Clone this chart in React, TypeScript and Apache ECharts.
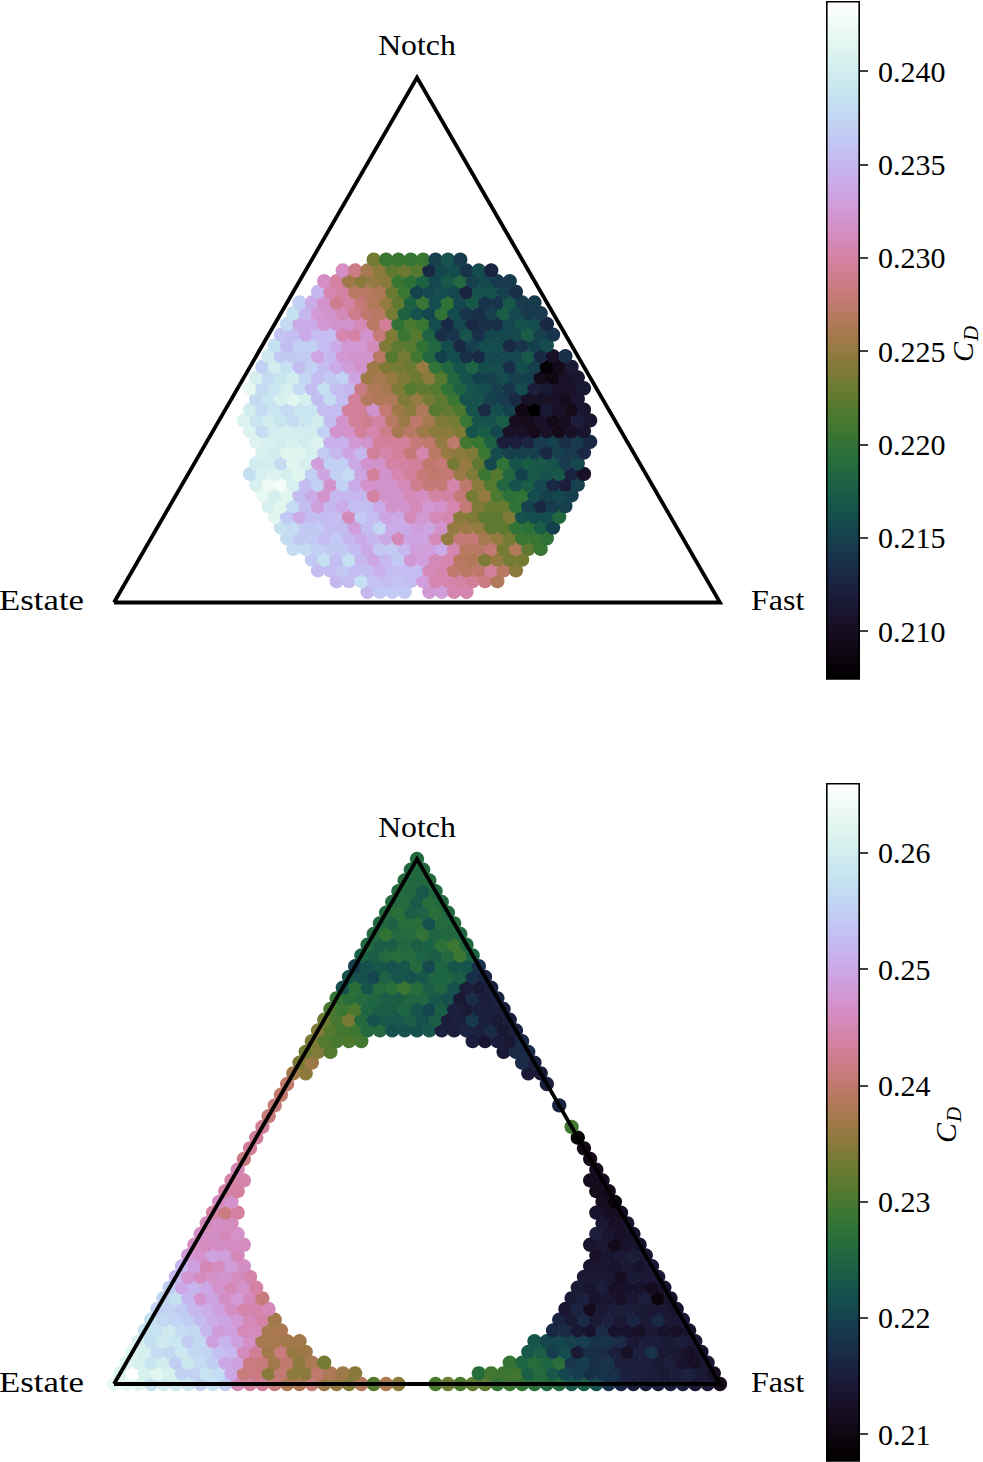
import { useEffect, useRef } from "react"
import * as echarts from "echarts"

const vertexLabels = ["Notch", "Estate", "Fast"]
const divisions = 49

const topRange = [0.20743, 0.24375]
const bottomRange = [0.20768, 0.26602]
const topTicks = [0.21, 0.215, 0.22, 0.225, 0.23, 0.235, 0.24]
const bottomTicks = [0.21, 0.22, 0.23, 0.24, 0.25, 0.26]

// [row from the base, first column, C_D in thousandths]
const topCells: [number, number, number[]][] = [
  [1, 20, [235, 236.5, 236.5, 236.5]],
  [1, 25, [232.5, 233, 230.5, 230.5]],
  [2, 17, [235, 235.5, 238.5, 236, 235.5, 236, 235.5, 233, 230.5, 230.5, 230, 229.5, 228.5, 226.5]],
  [3, 15, [235.5, 235.5, 236.5, 235.5, 235.5, 234.5, 235.5, 235.5, 235.5, 231, 230.5, 227.5, 227, 227.5, 229.5, 227, 224.5]],
  [4, 14, [236.5, 238.5, 235.5, 238.5, 235, 233.5, 235, 236.5, 232.5, 233, 231, 230.5, 227, 226.5, 224, 225, 223.5, 223.5]],
  [5, 12, [238, 238, 237, 236.5, 236.5, 235.5, 234, 236.5, 236.5, 235, 233, 233, 234, 230.5, 227, 227, 228, 223.5, 226.5, 222.5, 220.5]],
  [6, 11, [238, 236.5, 236.5, 235.5, 236.5, 235, 234, 235, 234, 231, 233.5, 233.5, 231, 225, 228, 228, 226, 225, 223.5, 220.5, 220.5, 220]],
  [7, 10, [238.5, 238, 236.5, 236.5, 235.5, 235.5, 233, 235.5, 237.5, 234, 234, 233, 233.5, 232, 225, 225.5, 225, 222.5, 222.5, 220, 219.5, 217.5, 215]],
  [8, 9, [241.5, 236.5, 234, 235.5, 235.5, 235.5, 231, 236.5, 235.5, 233.5, 234, 231, 232.5, 231, 230.5, 224.5, 224, 222.5, 222.5, 224, 216.5, 216, 216, 218.5]],
  [9, 8, [240.5, 241.5, 238, 235.5, 233, 235, 234, 235.5, 235.5, 234, 232, 232, 231, 232.5, 232, 230.5, 228, 224, 223, 223, 220, 215, 213, 214.5, 215]],
  [10, 7, [242, 240.5, 241.5, 235.5, 234, 232, 235, 235, 235, 230, 232, 232, 231, 231.5, 230, 230, 228, 223.5, 225, 221.5, 219.5, 220, 216, 215, 215.5, 215]],
  [11, 6, [240.5, 242.5, 243, 240.5, 235.5, 237, 232, 237, 234, 232, 232, 232, 231, 229, 228, 228, 230.5, 227.5, 224.5, 222, 218.5, 216.5, 217.5, 215.5, 213, 212, 215]],
  [12, 5, [238.5, 240.5, 241, 240.5, 241.5, 237, 233.5, 237, 238, 233.5, 229.5, 232, 230.5, 229.5, 228, 227.5, 228, 225.5, 224, 220.5, 222, 218.5, 215, 217, 216.5, 217, 212.5, 210.5]],
  [13, 5, [240, 240, 238, 241.5, 240.5, 233, 237, 237, 234, 232, 232, 230, 230, 229.5, 227.5, 228, 223.5, 225, 222.5, 215.5, 220, 216.5, 217.5, 217, 216.5, 214.5, 215.5]],
  [14, 5, [240.5, 240, 241.5, 241.5, 240.5, 236.5, 235, 233.5, 235, 229.5, 230.5, 229.5, 228, 230.5, 227, 225, 224.5, 224, 220.5, 216, 215, 215, 215, 213, 215, 214.5, 213]],
  [15, 4, [241, 240.5, 240, 240.5, 240, 241, 234.5, 234.5, 232.5, 232, 229.5, 229.5, 229.5, 228, 227.5, 225, 227.5, 221, 220.5, 218, 212, 212, 212.5, 214.5, 215, 213.5, 214.5, 213]],
  [16, 3, [241, 238, 240, 240.5, 240, 240, 237, 232, 232, 229.5, 230.5, 229, 226, 227, 225.5, 224.5, 224.5, 224, 216.5, 217.5, 215.5, 210.5, 210.5, 209.5, 210.5, 209.5, 210.5, 211]],
  [17, 2, [241, 239, 240, 239, 238, 239, 240, 235.5, 232, 229.5, 229, 230, 227, 225.5, 227.5, 226, 224, 223.5, 220.5, 216.5, 216.5, 217.5, 209.8, 209.5, 210.5, 209.5, 210, 212, 211]],
  [18, 2, [240, 238, 239, 238, 239, 239, 235.5, 235.5, 229.5, 229.5, 232, 228, 225.5, 224.5, 226.5, 222, 222.5, 221.5, 216.5, 213, 216, 215, 209, 207.5, 211.5, 210.5, 209.5, 211]],
  [19, 2, [238, 239, 240.5, 241.5, 240.5, 235.5, 238, 235.5, 229.5, 227, 226.5, 226.5, 224, 225, 223.5, 222.5, 220.5, 216.5, 216.5, 215, 214.5, 213, 210.5, 210.5, 210.5, 209.8, 211]],
  [20, 1, [242, 238, 239, 240.5, 238, 235.5, 238.5, 235.5, 235, 228.5, 226.5, 226, 224, 222, 222.5, 222, 220, 218, 216.5, 216, 215, 214, 216, 212, 211.5, 210.5, 210.5, 211.5]],
  [21, 1, [240.5, 238, 239, 240, 237.5, 235.5, 236.5, 237, 233.5, 225.5, 226, 225, 224, 223, 224.5, 222, 218.5, 216.5, 215, 215, 216, 215, 215, 209.5, 209, 210.5, 211]],
  [22, 1, [237, 240, 238.5, 235.5, 237, 235.5, 234, 233, 232, 225.5, 224, 223.5, 223, 225, 220, 218.5, 216.5, 218, 216, 216, 213.5, 216, 215, 207.8, 209.5, 211.5]],
  [23, 1, [239.5, 236.5, 236.5, 236.5, 233.5, 235, 232.5, 232, 232, 227, 222, 223.5, 221, 218.5, 215, 216, 213.5, 213, 215.5, 215.5, 215.5, 217, 213, 210.5, 213.5]],
  [24, 1, [238.5, 235.5, 237, 237, 235.5, 234, 232.5, 232.5, 231, 224, 222.5, 222, 220, 218.5, 216, 213, 215, 216, 216, 213, 214, 215, 216]],
  [25, 1, [236, 235.5, 234, 235.5, 235.5, 230.5, 230, 232, 228, 224, 220.5, 222, 218, 213.5, 214, 216.5, 213.5, 215.5, 215.5, 215.5, 217.5, 215, 214]],
  [26, 1, [238, 234, 234, 232.5, 232, 232, 231, 227, 229.5, 220, 221.5, 220.5, 216, 213, 215.5, 213, 213.5, 213.5, 215.5, 216.5, 216, 213]],
  [27, 1, [238.5, 235, 232.5, 232, 231, 229, 227.5, 227, 223.5, 218, 216.5, 215.5, 220, 216, 214, 213.5, 215, 217.5, 215.5, 214.5, 214.5]],
  [28, 1, [237, 234, 232, 229, 230, 228, 226.5, 225, 222.5, 218, 220.5, 216, 220, 215.5, 217, 214, 214, 217, 214.5, 214.5]],
  [29, 2, [235, 230.5, 230, 227, 227, 226.5, 223, 220.5, 215, 215.5, 216, 215.5, 212.5, 216.5, 216.5, 215, 213.5]],
  [30, 2, [231.5, 230, 225.5, 224.5, 225, 224.5, 220.5, 219.5, 218, 215.5, 217, 218.5, 215, 215.5, 214.5, 214.5]],
  [31, 3, [231.5, 228.5, 226, 224.5, 222.5, 223, 222, 213, 215.5, 216, 214, 216, 212.5]],
  [32, 5, [223.5, 220.5, 220.5, 220.3, 220.5, 215, 216.5, 214.5]],
]

const bottomCells: [number, number, number[]][] = [
  [0, 0, [263, 263, 262, 258, 260, 260, 259, 255.5, 258, 254.5, 245.5, 243.5, 243, 241, 238, 238, 241, 236.5, 236, 234.5, 238.5, 231, 238, 235]],
  [0, 26, [230.5, 233, 230.5, 232, 232, 228, 229, 228, 227, 226, 226, 223, 224, 222, 218, 216, 215, 215, 215, 215, 215, 214, 214, 211]],
  [1, 0, [262, 266, 261, 262.5, 261, 255.5, 255.5, 258, 257, 250, 241, 241.5, 235, 240.5, 235.5, 235, 240, 238, 236.5, 235]],
  [1, 29, [226.5, 229.5, 229, 229.5, 224, 226, 223, 220.5, 219.5, 217.5, 218, 217.5, 215.5, 215, 215, 214, 215, 215.5, 214.5, 212]],
  [2, 0, [262, 261, 258.5, 260, 255, 259, 257, 255, 250, 249, 241.5, 241, 237, 240, 235.5, 238, 233.5]],
  [2, 31, [228, 225, 226.5, 225, 227, 218.5, 219.5, 217.5, 218, 215, 215, 215, 214.5, 215, 213, 212.5, 214]],
  [3, 0, [262, 260.5, 257, 256.5, 259, 256.5, 256, 253, 252, 246, 243, 237, 241, 236, 236.5]],
  [3, 32, [223, 224, 219.5, 221.5, 214.5, 217.5, 217, 215.5, 212.5, 215.5, 218, 214, 214, 212.5, 213]],
  [4, 0, [261, 257.5, 259.5, 258.5, 254.5, 256.5, 249, 251.5, 249, 246.5, 237.5, 237.5, 237, 237]],
  [4, 32, [222.5, 220.5, 220.5, 220, 219.5, 218, 218, 217, 214, 215, 215, 214.5, 215, 214]],
  [5, 0, [258, 258, 259.5, 257, 256.5, 252, 248.5, 249, 245.5, 246, 237.5, 238]],
  [5, 33, [216.5, 217, 214, 213, 217, 213, 213, 212.5, 214, 213, 212.5, 213]],
  [6, 0, [257.5, 256.5, 256, 255, 252.5, 250.5, 249.5, 248, 245.5, 244, 237]],
  [6, 33, [216, 214, 217, 214.5, 215.5, 214, 216, 214.5, 216.5, 214, 214]],
  [7, 0, [256, 255.5, 254.5, 252, 250.5, 249, 246.5, 244.5, 244.5, 245.5]],
  [7, 33, [213.5, 216, 211.5, 214, 215, 215, 214.5, 214, 214, 213]],
  [8, 0, [256, 257.5, 252, 247.5, 249.5, 246.5, 248, 245.5, 241]],
  [8, 33, [214.5, 215.5, 213, 213.5, 212.5, 214, 215, 209.5, 213]],
  [9, 0, [255, 250, 251.5, 250, 247, 245.5, 247, 244]],
  [9, 33, [214.5, 213.5, 215, 212.5, 213, 213, 211.5, 213]],
  [10, 0, [252, 247.5, 246, 247, 247.5, 246, 244.5]],
  [10, 33, [214, 214, 214, 212, 214.5, 214, 214]],
  [11, 0, [252, 249, 245, 246, 248.5, 246.5]],
  [11, 33, [213.5, 213.5, 213, 214, 213, 214]],
  [12, 0, [248, 247, 249.5, 249, 245.5]],
  [12, 33, [212.5, 213.5, 214, 215, 214]],
  [13, 0, [246.5, 246, 246.5, 246.5, 246]],
  [13, 32, [213, 214, 211, 213, 213]],
  [14, 0, [246.5, 246.5, 245.5, 247]],
  [14, 32, [215, 213.5, 212.5, 213]],
  [15, 0, [245.5, 246.5, 246]],
  [15, 32, [214, 212.5, 213]],
  [16, 0, [244, 241.5, 243.5]],
  [16, 31, [213, 212, 212]],
  [17, 0, [246, 247]],
  [17, 31, [212, 209]],
  [18, 0, [244, 243.5]],
  [18, 30, [211, 211]],
  [19, 0, [244, 244.5]],
  [19, 29, [211.5, 211.5]],
  [20, 0, [245]],
  [20, 29, [211.5]],
  [21, 0, [241.5]],
  [21, 28, [211]],
  [22, 0, [243]],
  [22, 27, [211]],
  [23, 0, [243]],
  [23, 26, [208.5]],
  [24, 0, [243]],
  [24, 25, [229.5]],
  [25, 0, [241]],
  [26, 0, [241]],
  [26, 23, [216]],
  [27, 0, [240]],
  [28, 0, [240]],
  [28, 21, [215.5]],
  [29, 0, [237, 235.5]],
  [29, 19, [214, 214.5]],
  [30, 0, [234, 236.5]],
  [30, 18, [217, 215.5]],
  [31, 0, [233, 234.5, 231]],
  [31, 16, [214.5, 217, 217]],
  [32, 0, [234, 231, 230, 230.5, 229.5]],
  [32, 13, [215, 213.5, 215, 214, 217]],
  [33, 0, [234.5, 231, 229.5, 229, 226, 226, 222, 222, 222, 223, 215.5, 215, 216, 215.5, 217, 214, 215.5]],
  [34, 0, [233, 230, 234, 226, 222, 223, 223, 224, 222, 224, 215, 215.5, 219, 215.5, 214.5, 215]],
  [35, 0, [230, 229, 230.5, 225, 224, 224, 225, 222.5, 220.5, 224, 215.5, 214.5, 215.5, 215.5, 215]],
  [36, 0, [228, 227, 226, 225, 224, 224, 225, 225, 223, 222, 214, 217, 215, 216]],
  [37, 0, [221.5, 227, 222.5, 226, 227, 229, 226.5, 224, 225, 222, 215, 214.5, 215.5]],
  [38, 0, [222.5, 222, 220.5, 224.5, 222.5, 222, 223, 225, 225, 224, 217.5, 216]],
  [39, 0, [219.5, 222, 223, 222, 222.5, 226, 221, 225, 222.5, 222.5, 218]],
  [40, 0, [224.5, 224, 226, 226.5, 226, 224.5, 224, 226, 229, 225]],
  [41, 0, [225.5, 224, 224, 225.5, 224, 224.5, 227.5, 229, 225.5]],
  [42, 0, [226, 228, 226, 226, 228, 225, 225.5, 225.5]],
  [43, 0, [225.5, 224.5, 226.5, 227, 222, 226, 226]],
  [44, 0, [226, 227, 224, 224.5, 227, 225.5]],
  [45, 0, [226, 226, 223.5, 226.5, 225.5]],
  [46, 0, [226, 225.5, 223, 225.5]],
  [47, 0, [226, 225.5, 226]],
  [48, 0, [225.5, 225.5]],
  [49, 0, [226]],
]

const triangleHeight = Math.sqrt(3) / 2
const triangle = [[0, 0], [1, 0], [0.5, triangleHeight], [0, 0]]

// lattice cell -> ternary plane, value kept as third dimension
const toPoints = (cells: [number, number, number[]][]) =>
  cells.flatMap(([row, first, values]) =>
    values.map((v, i) => [
      (first + i + row / 2) / divisions,
      (row / divisions) * triangleHeight,
      v / 1000,
    ])
  )

// matplotlib's cubehelix colormap
const cubehelix = (x: number) => {
  const a = (x * (1 - x)) / 2
  const phi = 2 * Math.PI * (0.5 / 3 - 1.5 * x)
  const c = Math.cos(phi)
  const s = Math.sin(phi)
  const ch = (v: number) => Math.round(Math.min(1, Math.max(0, v)) * 255)
  return `rgb(${ch(x + a * (-0.14861 * c + 1.78277 * s))},${ch(x + a * (-0.29227 * c - 0.90649 * s))},${ch(x + a * 1.97294 * c)})`
}
const colors = Array.from({ length: 65 }, (_, i) => cubehelix(i / 64))
const gradient = () =>
  new echarts.graphic.LinearGradient(0, 1, 0, 0, colors.map((color, i) => ({ offset: i / 64, color })))

const serif = "'Liberation Serif', serif"

export default function App() {
  const chartRef = useRef<HTMLDivElement>(null)

  useEffect(() => {
    if (!chartRef.current) return
    document.body.style.margin = "0"
    const chart = echarts.init(chartRef.current, null, { renderer: "svg" })

    const plots = [
      { top: 77.5, barTop: 1, range: topRange, ticks: topTicks, digits: 3, cells: topCells },
      { top: 859, barTop: 783, range: bottomRange, ticks: bottomTicks, digits: 2, cells: bottomCells },
    ]

    const label = (text: string, x: number, y: number, align: string, scaleX: number) => ({
      type: "text",
      x,
      y,
      scaleX,
      style: { text, font: `30px ${serif}`, fill: "#000", align, verticalAlign: "middle" },
    })
    const cdLabel = (x: number, y: number) => [
      {
        type: "text", x, y, rotation: Math.PI / 2,
        style: { text: "C", font: `italic 30px ${serif}`, fill: "#000", align: "left", verticalAlign: "middle" },
      },
      {
        type: "text", x: x + 9, y: y - 21, rotation: Math.PI / 2,
        style: { text: "D", font: `italic 21px ${serif}`, fill: "#000", align: "left", verticalAlign: "middle" },
      },
    ]

    const option = {
      animation: false,
      backgroundColor: "#fff",
      grid: [
        ...plots.map((p) => ({ left: 114, width: 606, top: p.top, height: 525 })),
        ...plots.map((p) => ({ left: 826, width: 34, top: p.barTop, height: 678 })),
      ],
      xAxis: [
        ...plots.map((_, i) => ({ gridIndex: i, type: "value", min: 0, max: 1, show: false })),
        ...plots.map((_, i) => ({ gridIndex: i + 2, type: "category", data: ["bar"], show: false })),
      ],
      yAxis: [
        ...plots.map((_, i) => ({ gridIndex: i, type: "value", min: 0, max: triangleHeight, show: false })),
        ...plots.map((p, i) => ({
          gridIndex: i + 2,
          type: "value",
          position: "right",
          min: p.range[0],
          max: p.range[1],
          splitLine: { show: false },
          axisLine: { show: false },
          axisTick: {
            show: true,
            length: 8,
            customValues: p.ticks,
            lineStyle: { color: "#000", width: 1.5 },
          },
          axisLabel: {
            show: true,
            margin: 18,
            customValues: p.ticks,
            formatter: (v: number) => v.toFixed(p.digits),
            fontFamily: serif,
            fontSize: 30,
            color: "#000",
            padding: [0, 0, 2, 0],
          },
        })),
      ],
      visualMap: plots.map((p, i) => ({
        show: false,
        type: "continuous",
        seriesIndex: i * 2,
        dimension: 2,
        min: p.range[0],
        max: p.range[1],
        inRange: { color: colors },
      })),
      series: [
        ...plots.flatMap((p, i) => [
          {
            type: "scatter",
            xAxisIndex: i,
            yAxisIndex: i,
            clip: false,
            symbolSize: 14.3,
            itemStyle: { opacity: 1 },
            data: toPoints(p.cells),
            silent: true,
          },
          {
            type: "line",
            xAxisIndex: i,
            yAxisIndex: i,
            clip: false,
            showSymbol: false,
            symbol: "none",
            silent: true,
            data: triangle,
            lineStyle: { color: "#000", width: 3.8, join: "miter" },
          },
        ]),
        ...plots.map((p, i) => ({
          type: "bar",
          xAxisIndex: i + 2,
          yAxisIndex: i + 2,
          barWidth: "100%",
          silent: true,
          data: [p.range[1]],
          itemStyle: { color: gradient(), borderColor: "#000", borderWidth: 1.6 },
        })),
      ],
      graphic: [
        label(vertexLabels[0], 417, 45, "center", 1.06),
        label(vertexLabels[1], 84, 600, "right", 1.16),
        label(vertexLabels[2], 751, 600, "left", 1.07),
        label(vertexLabels[0], 417, 827, "center", 1.06),
        label(vertexLabels[1], 84, 1382, "right", 1.16),
        label(vertexLabels[2], 751, 1382, "left", 1.07),
        ...cdLabel(962, 362),
        ...cdLabel(945, 1143),
      ],
    }

    chart.setOption(option as any)
    return () => chart.dispose()
  }, [])

  return <div ref={chartRef} style={{ width: 983, height: 1462 }} />
}
